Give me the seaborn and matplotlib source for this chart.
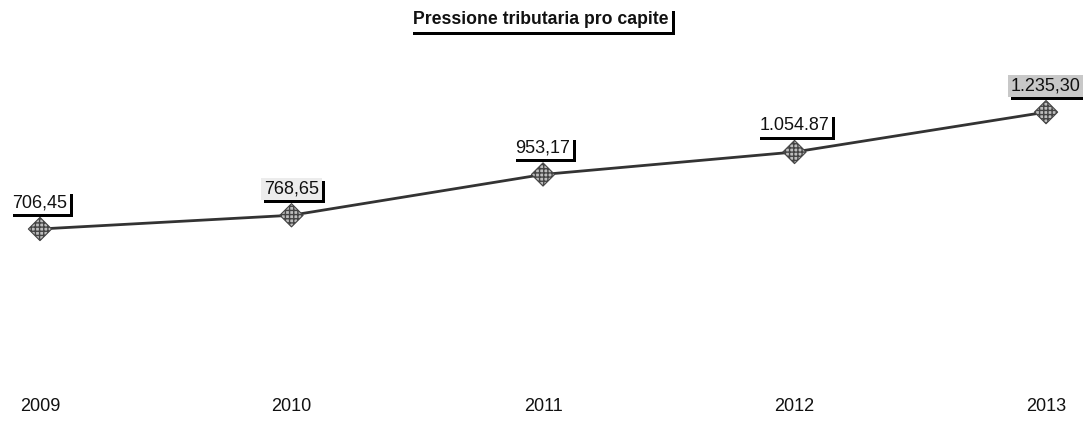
import matplotlib
matplotlib.use("Agg")
import matplotlib.pyplot as plt
import matplotlib.patheffects as pe
import pandas as pd
import seaborn as sns

years = [2009, 2010, 2011, 2012, 2013]
values = [706.45, 768.65, 953.17, 1054.87, 1235.30]
labels = ["706,45", "768,65", "953,17", "1.054.87", "1.235,30"]
label_fill = ["white", "#ececec", "white", "white", "#c8c8c8"]
title = "Pressione tributaria pro capite"

sns.set_theme(style="white")
plt.rcParams["font.family"] = ["Liberation Sans", "DejaVu Sans"]

df = pd.DataFrame({"year": years, "value": values})

fig = plt.figure(figsize=(10.83, 4.21), dpi=100)
ax = fig.add_axes([0, 0, 1, 1])

sns.lineplot(data=df, x="year", y="value", ax=ax, color="#333333", linewidth=2)
sns.scatterplot(data=df, x="year", y="value", ax=ax, marker="D", s=140,
                facecolor="#bdbdbd", edgecolor="#444444", hatch="++++",
                linewidth=0.8, zorder=3)

ax.set_xlim(2008.841, 2013.147)
ax.set_ylim(-162.3, 1742.6)
ax.axis("off")

shadow = [pe.withSimplePatchShadow(offset=(2.2, -2.2), shadow_rgbFace="black", alpha=1)]

for yr, val, lab, fc in zip(years, values, labels, label_fill):
    t = ax.annotate(lab, (yr, val), xytext=(0, 19), textcoords="offset points",
                    ha="center", va="center", fontsize=13, color="#111111",
                    bbox=dict(boxstyle="square,pad=0.15", facecolor=fc, edgecolor="none"))
    t.get_bbox_patch().set_path_effects(shadow)

for yr in years:
    ax.text(yr, 0.0356, str(yr), transform=ax.get_xaxis_transform(),
            ha="center", va="center", fontsize=13, color="#111111")

t = fig.text(0.4995, 0.953, title, ha="center", va="center", fontsize=12.7,
             fontweight="bold", color="#111111",
             bbox=dict(boxstyle="square,pad=0.2", facecolor="white", edgecolor="none"))
t.get_bbox_patch().set_path_effects(shadow)

fig.savefig("out.png", dpi=100, facecolor="white")
